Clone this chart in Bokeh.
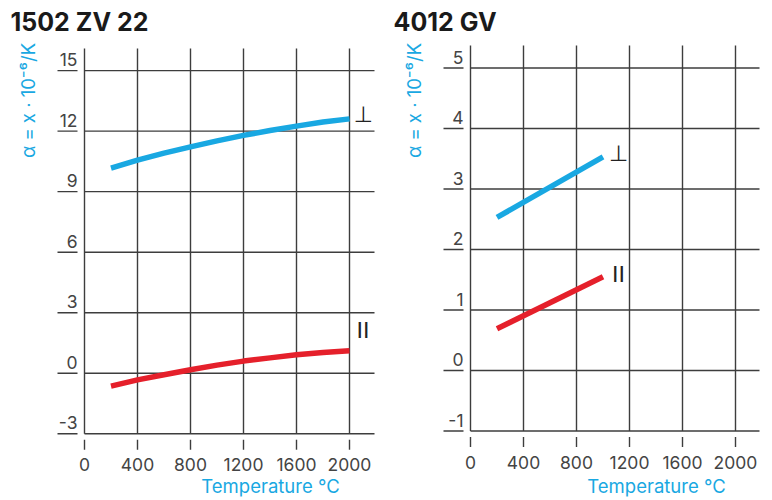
from math import pi

from bokeh.core.properties import value
from bokeh.embed import file_html
from bokeh.layouts import row
from bokeh.models import Range1d
from bokeh.plotting import figure
from bokeh.resources import INLINE

# ---- data -------------------------------------------------------------
# 1502 ZV 22: expansion coefficient across (⊥) and along (II) the grain
temps_zv = [200, 400, 600, 800, 1000, 1200, 1400, 1600, 1800, 2000]
perp_zv = [10.17, 10.56, 10.91, 11.22, 11.52, 11.79, 12.03, 12.25, 12.45, 12.61]
par_zv = [-0.64, -0.33, -0.08, 0.17, 0.40, 0.60, 0.76, 0.91, 1.03, 1.11]

# 4012 GV
temps_gv = [200, 1000]
perp_gv = [2.53, 3.53]
par_gv = [0.69, 1.55]

x_ticks = [0, 400, 800, 1200, 1600, 2000]
y_ticks_zv = [-3, 0, 3, 6, 9, 12, 15]
y_ticks_gv = [-1, 0, 1, 2, 3, 4, 5]

titles = ["1502 ZV 22", "4012 GV"]
y_title = "α = x · 10⁻⁶/K"
x_title = "Temperature °C"

BLUE = "#19a8e2"
RED = "#e5202b"
INK = "#3d3d3d"
LABEL_INK = "#444444"
FONT = "Inter"

W, H = 386, 500           # size of each panel in pixels
X0, SX = 84, 53 / 400     # pixel column of 0 °C, pixels per °C
LIFT = 5                  # raise alphabetic baselines by this many pixels


def make_panel(title, temps, perp, par, y_ticks, y0_px, sy, top_px, right_px,
               perp_mark, par_mark, head_px):
    # the canvas is the whole frame; positions are laid out through the scales
    def xd(px):
        return (px - X0) / SX

    def yd(py):
        return (y0_px - py) / sy

    p = figure(width=W, height=H,
               x_range=Range1d(xd(0), xd(W)), y_range=Range1d(yd(H), yd(0)),
               output_backend="svg", toolbar_location=None,
               x_axis_location=None, y_axis_location=None,
               min_border=0)
    p.outline_line_color = None
    p.grid.visible = False

    y_lo = y_ticks[0]
    y_hi = yd(top_px)
    x_hi = xd(right_px)
    bottom_px = y0_px - y_lo * sy

    # grid
    p.segment(x0=x_ticks, y0=[y_lo] * len(x_ticks), x1=x_ticks, y1=[y_hi] * len(x_ticks),
              line_color=INK, line_width=1.4)
    p.segment(x0=[0] * len(y_ticks), y0=y_ticks, x1=[x_hi] * len(y_ticks), y1=y_ticks,
              line_color=INK, line_width=1.4)

    # detached ticks
    p.segment(x0=[xd(X0 - 27)] * len(y_ticks), y0=y_ticks,
              x1=[xd(X0 - 7)] * len(y_ticks), y1=y_ticks,
              line_color=INK, line_width=1.4)
    p.segment(x0=x_ticks, y0=[yd(bottom_px + 6)] * len(x_ticks),
              x1=x_ticks, y1=[yd(bottom_px + 16)] * len(x_ticks),
              line_color=INK, line_width=1.4)

    # tick labels
    p.text(x=[xd(X0 - 7)] * len(y_ticks), y=[t + (6 + LIFT) / sy for t in y_ticks],
           text=[str(t) for t in y_ticks],
           text_font=value(FONT), text_font_size="17.5px", text_color=LABEL_INK,
           text_align="right", text_baseline="alphabetic")
    p.text(x=x_ticks, y=[yd(bottom_px + 36 - LIFT)] * len(x_ticks),
           text=[str(t) for t in x_ticks],
           text_font=value(FONT), text_font_size="17.5px", text_color=LABEL_INK,
           text_align="center", text_baseline="alphabetic")

    # curves
    p.line(temps, perp, line_color=BLUE, line_width=5.5, line_cap="butt")
    p.line(temps, par, line_color=RED, line_width=5.5, line_cap="butt")

    # orientation marks
    p.text(x=[perp_mark[0]], y=[perp_mark[1]], text=["⊥"],
           text_font=value("DejaVu Sans"), text_font_size="22px",
           text_color="#222222", text_align="center", text_baseline="middle")
    p.text(x=[par_mark[0]], y=[par_mark[1]], text=["II"],
           text_font=value("DejaVu Sans"), text_font_size="22px",
           text_color="#222222", text_align="center", text_baseline="middle")

    # heading and axis titles
    p.text(x=[xd(head_px)], y=[yd(26 - LIFT)], text=[title],
           text_font=value(FONT), text_font_style="bold", text_font_size="25px",
           text_color="#1a1a1a", text_align="left", text_baseline="alphabetic")
    p.text(x=[xd(27)], y=[yd(100)], text=[y_title], angle=pi / 2,
           text_font=value(FONT), text_font_size="18.5px", text_color=BLUE,
           text_align="center", text_baseline="middle")
    p.text(x=[xd(270)], y=[yd(490 - LIFT)], text=[x_title],
           text_font=value(FONT), text_font_size="18.5px", text_color=BLUE,
           text_align="center", text_baseline="alphabetic")
    return p


left = make_panel(titles[0], temps_zv, perp_zv, par_zv, y_ticks_zv,
                  372.7, 20.17, 48, 374, (2104, 12.84), (2102, 2.13), 10)
right = make_panel(titles[1], temps_gv, perp_gv, par_gv, y_ticks_gv,
                   370.0, 60.5, 45, 373, (1117, 3.58), (1117, 1.59), 7)

layout = row(left, right)
open("out.html", "w").write(file_html(layout, INLINE))
